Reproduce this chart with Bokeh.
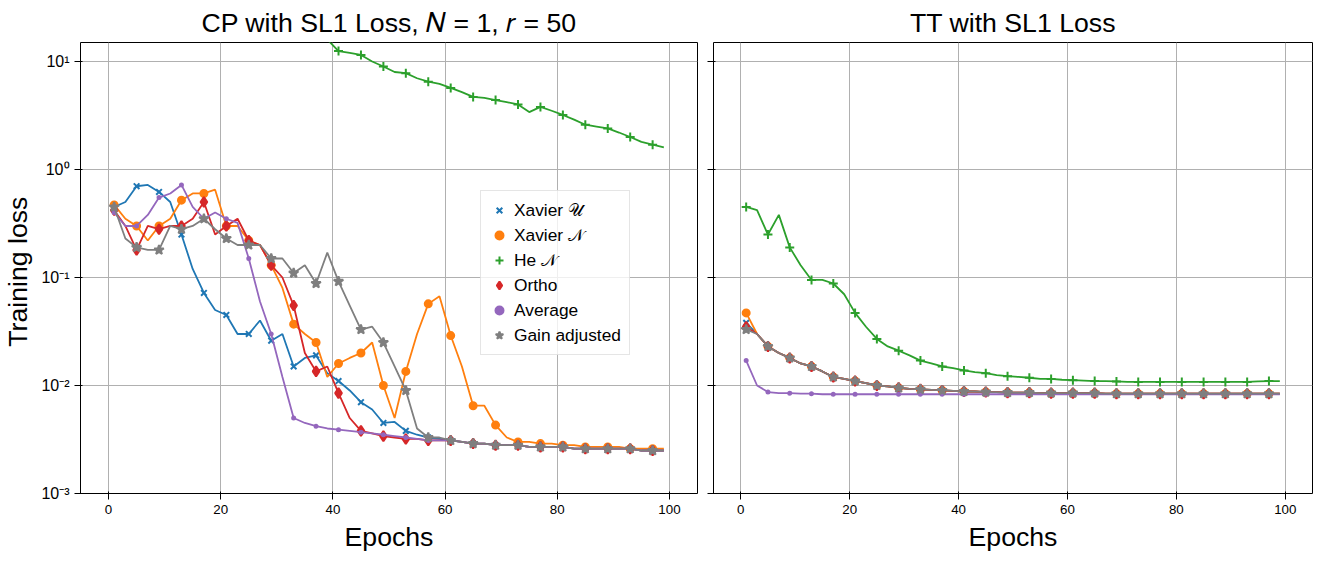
from bokeh.plotting import figure
from bokeh.layouts import row
from bokeh.models import Range1d, FixedTicker, Legend, LegendItem
from bokeh.embed import file_html
from bokeh.resources import INLINE

epochs = list(range(1, 100, 2))
names = ["Xavier 𝒰", "Xavier 𝒩", "He 𝒩", "Ortho", "Average", "Gain adjusted"]
colors = ["#1f77b4", "#ff7f0e", "#2ca02c", "#d62728", "#9467bd", "#7f7f7f"]
markers = ["x", "circle", "cross", "diamond", "circle", "star"]
msizes = [8, 7, 9, 10, 3, 10]

tail_cp = [0.0031, 0.003, 0.0029, 0.0029, 0.0028, 0.0028, 0.0028, 0.0027, 0.0027, 0.0027,
           0.0027, 0.0026, 0.0026, 0.0026, 0.0026, 0.0026, 0.0026, 0.0025, 0.0025, 0.0025]

cp_xavier_u = [0.45, 0.5, 0.7, 0.72, 0.62, 0.5, 0.25, 0.12, 0.072, 0.05, 0.045, 0.03, 0.03, 0.04, 0.026,
               0.03, 0.015, 0.018, 0.019, 0.013, 0.011, 0.009, 0.007, 0.006, 0.0045, 0.0046, 0.0038,
               0.0035, 0.0033, 0.0032] + tail_cp
cp_xavier_n = [0.47, 0.35, 0.3, 0.22, 0.3, 0.35, 0.52, 0.6, 0.6, 0.65, 0.3, 0.3, 0.22, 0.2, 0.13,
               0.08, 0.037, 0.03, 0.025, 0.012, 0.016, 0.018, 0.02, 0.025, 0.01, 0.005, 0.0135, 0.03,
               0.057, 0.067, 0.029, 0.015, 0.0065, 0.0065, 0.0043, 0.0033, 0.003, 0.003, 0.0029,
               0.0029, 0.0028, 0.0028, 0.0027, 0.0027, 0.0027, 0.0027, 0.0026, 0.0026, 0.0026, 0.0026]
cp_he_n = [60, 55, 52, 50, 48, 45, 42, 40, 38, 36, 34, 32, 30, 28, 26, 24, 22, 20, 18, 16,
           12.5, 12, 11.5, 10, 9, 8, 7.8, 7, 6.5, 6.2, 5.7, 5.2, 4.7, 4.6, 4.4, 4.2, 4.0, 3.4, 3.8, 3.5,
           3.2, 2.9, 2.6, 2.5, 2.4, 2.2, 2.0, 1.8, 1.7, 1.6]
cp_ortho = [0.42, 0.3, 0.18, 0.3, 0.28, 0.3, 0.3, 0.35, 0.5, 0.25, 0.3, 0.35, 0.22, 0.2, 0.13,
            0.1, 0.055, 0.02, 0.0135, 0.015, 0.0085, 0.005, 0.0038, 0.0036, 0.0034, 0.0033, 0.0032,
            0.0032, 0.0031, 0.0031] + tail_cp
cp_average = [0.4, 0.3, 0.3, 0.38, 0.55, 0.6, 0.72, 0.45, 0.35, 0.4, 0.35, 0.32, 0.15, 0.06, 0.03,
              0.012, 0.005, 0.0045, 0.0042, 0.004, 0.0039, 0.0038, 0.0037, 0.0036, 0.0035, 0.0034,
              0.0033, 0.0032, 0.0031, 0.0031] + tail_cp
cp_gain = [0.45, 0.23, 0.19, 0.18, 0.18, 0.3, 0.28, 0.3, 0.35, 0.28, 0.23, 0.2, 0.2, 0.2, 0.15,
           0.15, 0.11, 0.13, 0.088, 0.17, 0.092, 0.055, 0.033, 0.035, 0.025, 0.015, 0.009, 0.004,
           0.0033, 0.0033] + tail_cp

tt_tail = [0.03, 0.023, 0.02, 0.018, 0.016, 0.015, 0.0135, 0.012, 0.0115, 0.011, 0.0105, 0.01, 0.0098,
           0.0095, 0.0093, 0.0092, 0.0091, 0.009, 0.0089, 0.0088, 0.0088, 0.0087, 0.0087, 0.0086, 0.0086,
           0.0086, 0.0085, 0.0085, 0.0085, 0.0085, 0.0085, 0.0085, 0.0084, 0.0084, 0.0084, 0.0084, 0.0084,
           0.0084, 0.0084, 0.0084, 0.0084, 0.0084, 0.0084, 0.0084, 0.0084, 0.0084, 0.0084, 0.0084, 0.0084]
tt_xavier_u = [0.038] + tt_tail
tt_xavier_n = [0.047] + tt_tail
tt_ortho = [0.035] + tt_tail
tt_gain = [0.033] + tt_tail
tt_he_n = [0.45, 0.42, 0.25, 0.38, 0.19, 0.13, 0.095, 0.095, 0.088, 0.07, 0.047, 0.035, 0.027, 0.023,
           0.021, 0.019, 0.017, 0.016, 0.015, 0.0145, 0.0138, 0.0133, 0.013, 0.0125, 0.0122, 0.012,
           0.0118, 0.0115, 0.0115, 0.0113, 0.0112, 0.0111, 0.011, 0.011, 0.0109, 0.0108, 0.0108, 0.0108,
           0.0108, 0.0108, 0.0108, 0.0108, 0.0108, 0.0108, 0.0108, 0.0108, 0.0108, 0.0109, 0.011, 0.011]
tt_average = [0.017, 0.01, 0.0087, 0.0085, 0.0085, 0.0084, 0.0084, 0.0083, 0.0083, 0.0083, 0.0083,
              0.0083, 0.0083, 0.0083, 0.0083, 0.0083, 0.0083, 0.0083, 0.0083, 0.0083, 0.0083, 0.0083,
              0.0083, 0.0083, 0.0083, 0.0083, 0.0083, 0.0083, 0.0083, 0.0083, 0.0083, 0.0083, 0.0083,
              0.0083, 0.0083, 0.0083, 0.0083, 0.0083, 0.0083, 0.0083, 0.0083, 0.0083, 0.0083, 0.0083,
              0.0083, 0.0083, 0.0083, 0.0083, 0.0083, 0.0083]

cp_series = [cp_xavier_u, cp_xavier_n, cp_he_n, cp_ortho, cp_average, cp_gain]
tt_series = [tt_xavier_u, tt_xavier_n, tt_he_n, tt_ortho, tt_average, tt_gain]

y_ticks = [1e-3, 1e-2, 1e-1, 1e0, 1e1]
y_labels = ["10⁻³", "10⁻²", "10⁻¹", "10⁰", "10¹"]


def make_panel(title, series, width, show_y, with_legend):
    p = figure(title=title, width=width, height=554, y_axis_type="log",
               output_backend="svg", toolbar_location=None,
               x_range=Range1d(-5, 105), y_range=Range1d(1e-3, 15),
               min_border_left=79 if show_y else 8, min_border_right=8)
    p.title.align = "center"
    p.title.text_font_size = "20pt"
    p.title.text_font_style = "normal"
    p.title.text_color = "black"
    p.xaxis.axis_label = "Epochs"
    p.xaxis.axis_label_text_font_size = "20pt"
    p.xaxis.axis_label_text_font_style = "normal"
    p.xaxis.ticker = FixedTicker(ticks=[0, 20, 40, 60, 80, 100])
    p.yaxis.ticker = FixedTicker(ticks=y_ticks)
    if show_y:
        p.yaxis.major_label_overrides = {t: l for t, l in zip(y_ticks, y_labels)}
        p.yaxis.axis_label = "Training  loss"
        p.yaxis.axis_label_text_font_size = "20pt"
        p.yaxis.axis_label_text_font_style = "normal"
        p.yaxis.major_label_text_font_size = "12pt"
    else:
        p.yaxis.major_label_overrides = {t: "" for t in y_ticks}
    p.xaxis.major_label_text_font_size = "10pt"
    for ax in (p.xaxis, p.yaxis):
        ax.minor_tick_line_color = None
        ax.axis_line_color = None
        ax.major_label_text_color = "black"
        ax.axis_label_text_color = "black"
        ax.major_tick_line_color = "black"
    p.outline_line_color = "black"
    p.grid.grid_line_color = "#b0b0b0"
    items = []
    for name, ys, c, m, s in zip(names, series, colors, markers, msizes):
        p.line(epochs, ys, line_color=c, line_width=1.8)
        r = p.scatter(epochs[::2], ys[::2], marker=m, size=s, line_color=c,
                      fill_color=c, line_width=2)
        items.append(LegendItem(label=name, renderers=[r]))
    if with_legend:
        leg = Legend(items=items, location=(400, 138), label_text_font_size="13pt",
                     label_text_color="black", border_line_color="#cccccc",
                     background_fill_alpha=0.8, spacing=3, label_height=22, glyph_height=22,
                     padding=8)
        p.add_layout(leg, "center")
    return p


p1 = make_panel("CP with SL1 Loss, 𝑁 = 1, 𝑟 = 50", cp_series, 705, True, True)
p2 = make_panel("TT with SL1 Loss", tt_series, 615, False, False)
p = row(p1, p2)

open("out.html", "w").write(file_html(p, INLINE))
